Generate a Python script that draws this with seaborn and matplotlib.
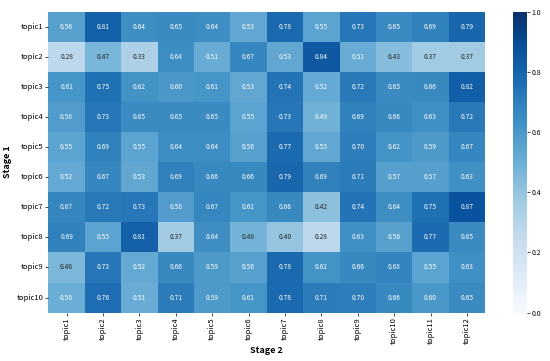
import matplotlib
matplotlib.use("Agg")
import matplotlib.pyplot as plt
import seaborn as sns
import numpy as np
import pandas as pd

rows = [f"topic{i}" for i in range(1, 11)]
cols = [f"topic{i}" for i in range(1, 13)]

topic1 = [0.56, 0.81, 0.64, 0.65, 0.64, 0.53, 0.78, 0.55, 0.73, 0.65, 0.69, 0.79]
topic2 = [0.28, 0.47, 0.33, 0.64, 0.51, 0.67, 0.53, 0.84, 0.51, 0.43, 0.37, 0.37]
topic3 = [0.61, 0.75, 0.62, 0.60, 0.61, 0.53, 0.74, 0.52, 0.72, 0.65, 0.66, 0.82]
topic4 = [0.58, 0.73, 0.65, 0.65, 0.65, 0.55, 0.73, 0.49, 0.69, 0.66, 0.63, 0.72]
topic5 = [0.55, 0.69, 0.55, 0.64, 0.64, 0.56, 0.77, 0.53, 0.70, 0.62, 0.59, 0.67]
topic6 = [0.52, 0.67, 0.53, 0.69, 0.66, 0.66, 0.79, 0.69, 0.71, 0.57, 0.57, 0.63]
topic7 = [0.67, 0.72, 0.73, 0.58, 0.67, 0.61, 0.66, 0.42, 0.74, 0.64, 0.75, 0.87]
topic8 = [0.69, 0.55, 0.81, 0.37, 0.64, 0.48, 0.40, 0.28, 0.63, 0.56, 0.77, 0.65]
topic9 = [0.46, 0.73, 0.52, 0.66, 0.59, 0.56, 0.78, 0.62, 0.66, 0.68, 0.55, 0.63]
topic10 = [0.50, 0.76, 0.51, 0.71, 0.59, 0.61, 0.78, 0.71, 0.70, 0.66, 0.60, 0.65]

data = pd.DataFrame([topic1, topic2, topic3, topic4, topic5, topic6, topic7,
                     topic8, topic9, topic10], index=rows, columns=cols)

plt.rcParams['font.family'] = ['Noto Sans CJK SC', 'DejaVu Sans']

fig = plt.figure(figsize=(5.5, 3.61), dpi=100)
ax = fig.add_axes([0.088, 0.134, 0.794, 0.834])
cax = fig.add_axes([0.932, 0.134, 0.026, 0.834])
sns.heatmap(data, ax=ax, cbar_ax=cax, cmap="Blues", vmin=0, vmax=1,
            annot=True, fmt=".2f", annot_kws={"fontsize": 4.8})
ax.set_xlabel("Stage 2", fontsize=6.5, fontweight="bold", labelpad=1)
ax.set_ylabel("Stage 1", fontsize=6.5, fontweight="bold", labelpad=3)
ax.tick_params(axis='x', labelsize=5.5, rotation=90, length=2, width=0.5, pad=1.5)
ax.tick_params(axis='y', labelsize=5.5, rotation=0, length=2, width=0.5, pad=1.5)
cax.tick_params(labelsize=5, length=2, width=0.5, pad=1.5)
cax.set_yticks([0.0, 0.2, 0.4, 0.6, 0.8, 1.0])
fig.savefig("out.png", dpi=100)
